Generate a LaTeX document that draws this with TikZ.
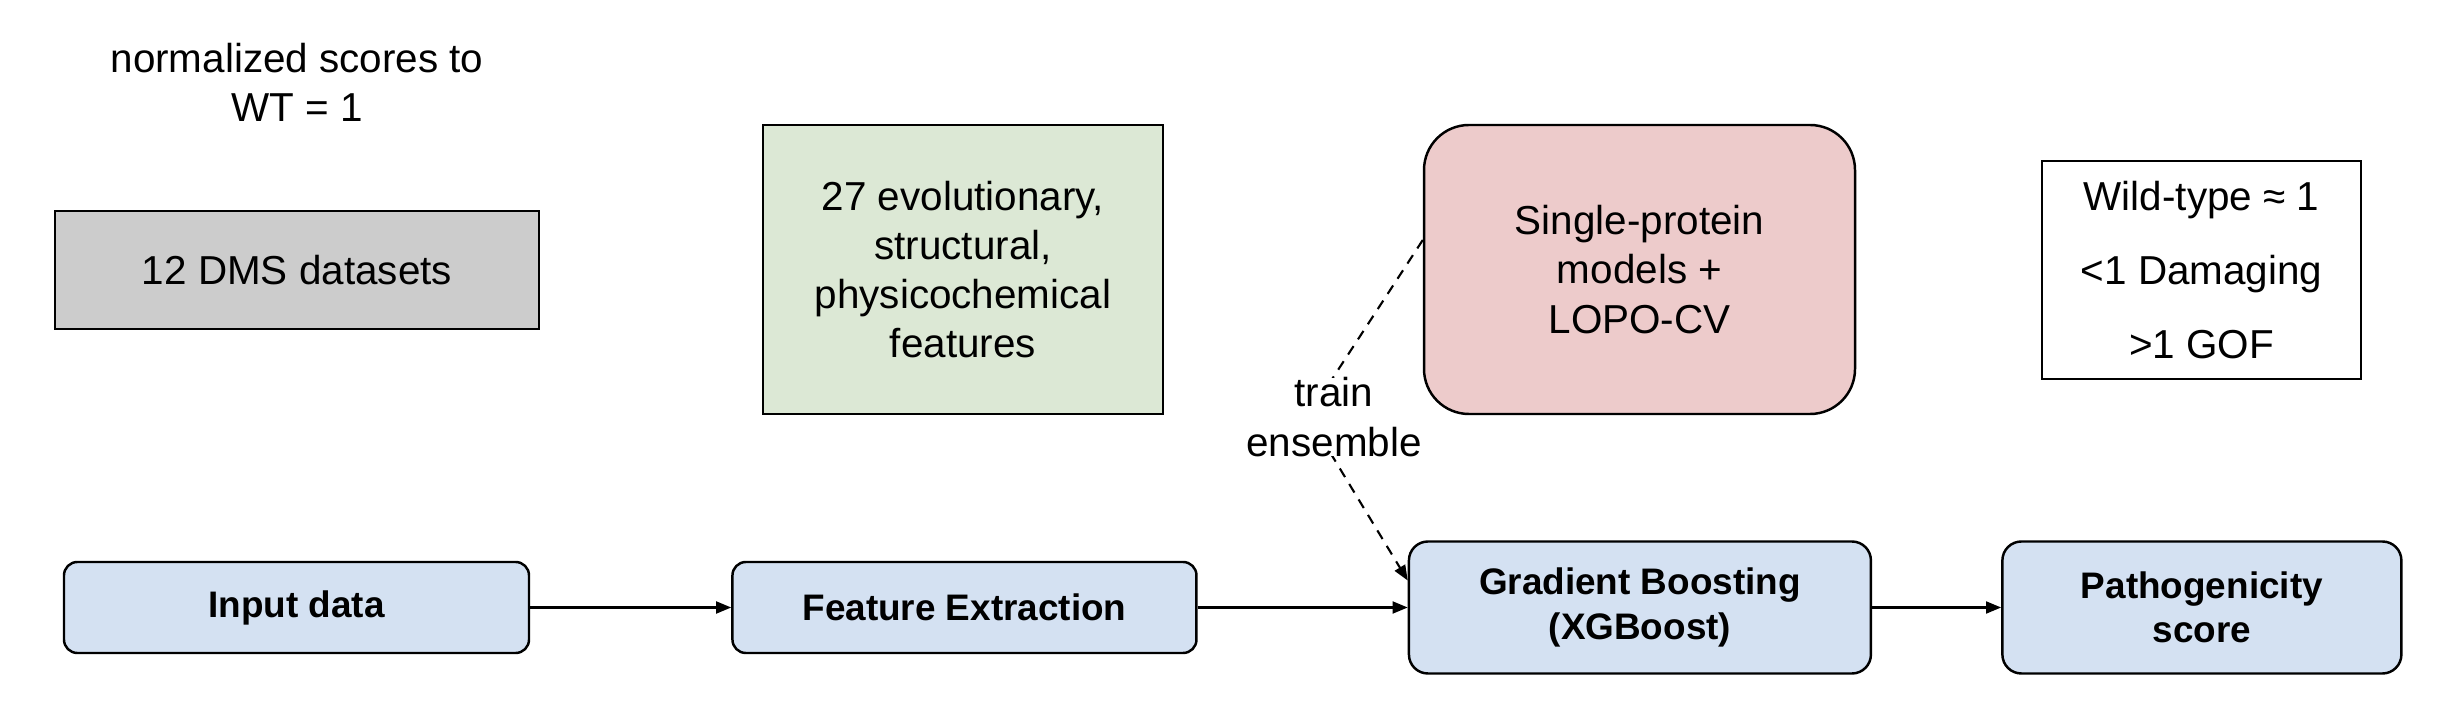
\documentclass[tikz,border=0pt]{standalone}
\usepackage{fontspec}
\setmainfont{Liberation Sans}
\usepackage{tikz}
\usetikzlibrary{positioning,arrows.meta,calc}
\definecolor{dmsgray}{HTML}{CCCCCC}
\definecolor{featgreen}{HTML}{DCE8D5}
\definecolor{modelpink}{HTML}{EDCBCB}
\definecolor{stageblue}{HTML}{D4E1F2}

\begin{document}
\begin{tikzpicture}[
    txt/.style={align=center, font=\fontsize{11.5}{14}\selectfont},
    box/.style={txt, draw, line width=0.7pt, inner sep=0pt},
    stage/.style={box, fill=stageblue, rounded corners=3.8pt, font=\bfseries\fontsize{10.5}{12.6}\selectfont},
    >={Triangle[length=4.3pt,width=3.4pt]},
    flow/.style={->, line width=0.6pt}
  ]
    \useasboundingbox (0,0) rectangle (24.48,7.16);

    % top row: data, features, models, score meaning
    \node[txt] (norm) at (2.97,6.34) {normalized scores to\\WT = 1};
    \node[box, fill=dmsgray, minimum width=4.84cm, minimum height=1.18cm] (dms) at (2.97,4.46) {12 DMS datasets};
    \node[box, fill=featgreen, minimum width=4cm, minimum height=2.89cm] (feat) at (9.63,4.465) {27 evolutionary,\\structural,\\physicochemical\\features};
    \node[box, fill=modelpink, rounded corners=12.8pt, minimum width=4.31cm, minimum height=2.89cm] (single) at (16.395,4.465) {Single-protein\\models +\\LOPO-CV};
    \node[box, minimum width=3.19cm, minimum height=2.18cm, font=\fontsize{11.5}{21}\selectfont] (legend) at (22.015,4.46) {Wild-type ≈ 1\\<1 Damaging\\>1 GOF};

    % pipeline
    \node[stage, minimum width=4.65cm, minimum height=0.91cm] (input) at (2.965,1.085) {Input data};
    \node[stage, minimum width=4.64cm, minimum height=0.91cm, right=2.01cm of input] (extract) {Feature Extraction};
    \node[stage, rounded corners=5.4pt, minimum width=4.62cm, minimum height=1.32cm, right=2.10cm of extract] (gb) {Gradient Boosting\\(XGBoost)};
    \node[stage, rounded corners=5.4pt, minimum width=3.99cm, minimum height=1.32cm, right=1.29cm of gb] (score) {Pathogenicity\\score};

    \draw[flow] (input) -- (extract);
    \draw[flow] (extract) -- (gb);
    \draw[flow] (gb) -- (score);

    \coordinate (bend) at (13.08,3.0);
    \draw[flow, dash pattern=on 2.85pt off 2.3pt] ($(single.west)+(0,0.295)$) -- (bend) -- ($(gb.west)+(0,0.27)$);
    \node[txt, fill=white, inner sep=0pt] (train) at (13.34,2.99) {train\\ensemble};
\end{tikzpicture}
\end{document}
